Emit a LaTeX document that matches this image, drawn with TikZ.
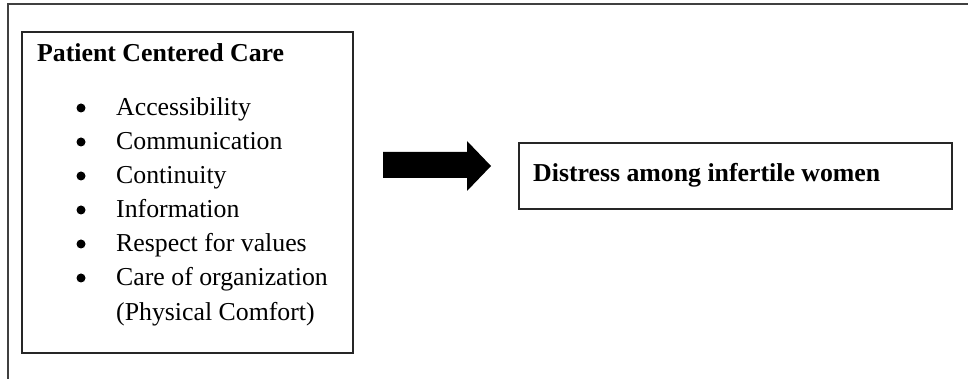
\documentclass[tikz,border=0pt]{standalone}
\usepackage{fontspec}
\setmainfont{Liberation Serif}
\begin{document}
\begin{tikzpicture}[x=1pt,y=-1pt,
  frame/.style={draw=black!75,line width=1.5pt},
  boxline/.style={draw=black!85,line width=1.6pt},
  txt/.style={inner sep=0pt,anchor=base west,font=\fontsize{25.8}{34}\selectfont},
  bul/.style={circle,fill=black,inner sep=0pt,minimum size=9pt},
  hd/.style={txt,font=\fontsize{25.8}{34}\selectfont\bfseries}]
\useasboundingbox (0,0) rectangle (969,379);
\fill[white] (0,0) rectangle (969,379);
\coordinate (fa) at (8,379);
\coordinate (fb) at (8,4);
\coordinate (fc) at (968,4);
\draw[frame] (fa) -- (fb) -- (fc);
\node[boxline,rectangle,minimum width=331pt,minimum height=321pt,anchor=north west,inner sep=0pt] (left) at (21,31) {};
\node[hd] (title) at (37,62) {Patient Centered Care};
\foreach \y/\t [count=\i] in {116/Accessibility,150/Communication,184/Continuity,218/Information,252/Respect for values,286/Care of organization}{
  \node[bul] (b\i) at (81,\y-8) {};
  \node[txt] (t\i) at (116,\y) {\t};
}
\node[txt] (t7) at (116,320) {(Physical Comfort)};
\node[boxline,rectangle,minimum width=433pt,minimum height=66pt,anchor=north west,inner sep=0pt] (right) at (518,142) {};
\node[hd] (dist) at (533,182) {Distress among infertile women};
\fill[black] (383,152) -- (467,152) -- (467,141) -- (491,166) -- (467,191) -- (467,178) -- (383,178) -- cycle;
\end{tikzpicture}
\end{document}
